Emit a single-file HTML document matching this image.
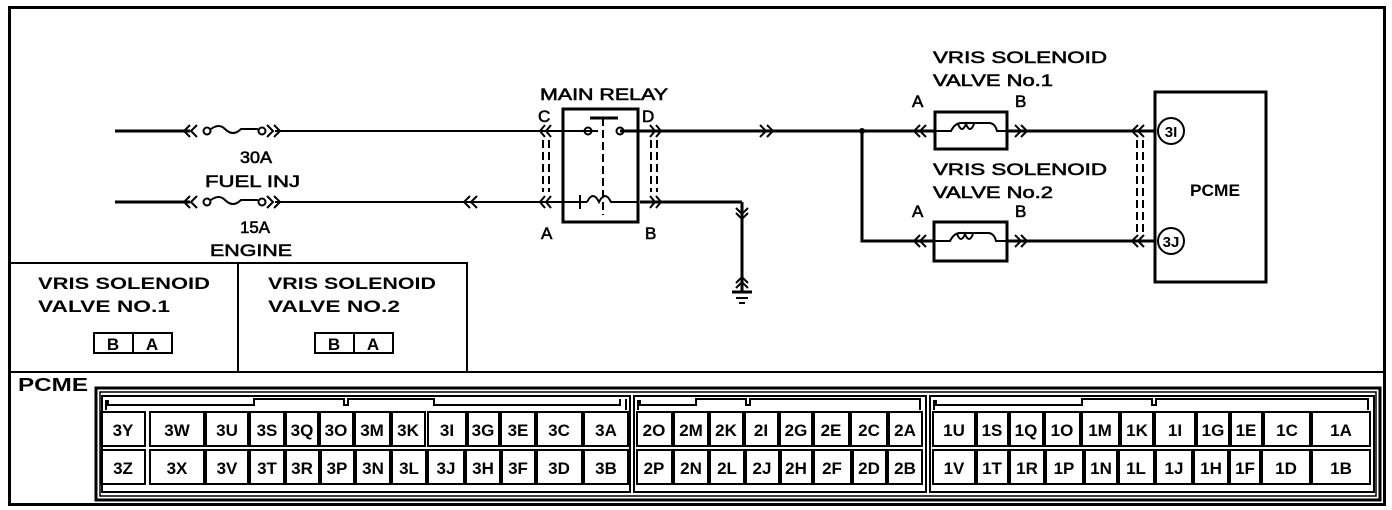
<!DOCTYPE html>
<html><head><meta charset="utf-8"><style>
html,body{margin:0;padding:0;background:#fff;}
svg{display:block;}
text{font-family:"Liberation Sans",sans-serif;font-weight:bold;fill:#000;}
.t{font-size:17px;font-weight:normal;stroke:#000;stroke-width:0.6;}
.c{font-size:17px;text-anchor:middle;}
</style></head><body>
<svg width="1392" height="510" viewBox="0 0 1392 510" xmlns="http://www.w3.org/2000/svg">
<g fill="none" stroke="#000">
<rect x="9.5" y="7.5" width="1375" height="497" stroke-width="3"/>
<line x1="9" y1="372" x2="1385" y2="372" stroke-width="2"/>
<polyline points="9,263 467,263 467,372" stroke-width="2"/>
<line x1="238" y1="263" x2="238" y2="372" stroke-width="2"/>
<line x1="115" y1="131" x2="190" y2="131" stroke-width="3"/>
<line x1="275" y1="131" x2="598" y2="131" stroke-width="2"/>
<line x1="620" y1="131" x2="1155" y2="131" stroke-width="3"/>
<line x1="115" y1="202" x2="190" y2="202" stroke-width="3"/>
<line x1="275" y1="202" x2="575" y2="202" stroke-width="2"/>
<line x1="640" y1="202" x2="742" y2="202" stroke-width="3"/>
<line x1="742" y1="202" x2="742" y2="292" stroke-width="3"/>
<line x1="732" y1="292" x2="752" y2="292" stroke-width="3"/>
<line x1="736" y1="298" x2="748" y2="298" stroke-width="2"/>
<line x1="739" y1="303" x2="745" y2="303" stroke-width="2"/>
<path d="M190,125 l-6,6 l6,6 M197,125 l-6,6 l6,6" stroke-width="2"/>
<circle cx="207" cy="131" r="3.5" stroke-width="2"/>
<path d="M211,129 q8,-6 14,0 q8,8 16,0 h17" stroke-width="2"/>
<circle cx="262" cy="131" r="3.5" stroke-width="2"/>
<path d="M267,125 l6,6 l-6,6 M274,125 l6,6 l-6,6" stroke-width="2"/>
<path d="M190,196 l-6,6 l6,6 M197,196 l-6,6 l6,6" stroke-width="2"/>
<circle cx="207" cy="202" r="3.5" stroke-width="2"/>
<path d="M211,200 q8,-6 14,0 q8,8 16,0 h17" stroke-width="2"/>
<circle cx="262" cy="202" r="3.5" stroke-width="2"/>
<path d="M267,196 l6,6 l-6,6 M274,196 l6,6 l-6,6" stroke-width="2"/>
<path d="M470,196 l-6,6 l6,6 M477,196 l-6,6 l6,6" stroke-width="2"/>
<path d="M760,125 l6,6 l-6,6 M767,125 l6,6 l-6,6" stroke-width="2"/>
<rect x="563" y="109" width="75" height="113" stroke-width="3"/>
<line x1="590" y1="118" x2="618" y2="118" stroke-width="3"/>
<circle cx="588" cy="131" r="3.5" stroke-width="2"/>
<circle cx="620" cy="131" r="3.5" stroke-width="2"/>
<line x1="603" y1="118" x2="603" y2="215" stroke-width="2" stroke-dasharray="8,4"/>
<path d="M563,202 h24 M580,195 v14 M587,202 q6,-12 12,0 q6,-12 12,0 h27" stroke-width="2"/>
<path d="M545,125 l-5,6 l5,6 M551,125 l-5,6 l5,6 M545,196 l-5,6 l5,6 M551,196 l-5,6 l5,6" stroke-width="2"/>
<path d="M543,140 v52 M549,140 v52" stroke-width="2" stroke-dasharray="8,4"/>
<path d="M650,125 l5,6 l-5,6 M656,125 l5,6 l-5,6 M650,196 l5,6 l-5,6 M656,196 l5,6 l-5,6" stroke-width="2"/>
<path d="M651,140 v52 M657,140 v52" stroke-width="2" stroke-dasharray="8,4"/>
<path d="M736,208 l6,6 l6,-6 M736,213 l6,6 l6,-6 M736,283 l6,-6 l6,6 M736,288 l6,-6 l6,6" stroke-width="2"/>
<polyline points="862,131 862,241 1155,241" stroke-width="3"/>
<circle cx="862" cy="131" r="2.5" fill="#000"/>
<rect x="935" y="112" width="72" height="37" fill="#fff" stroke-width="3"/>
<path d="M935,131 h16 q4,-8 10,-8 h28 q6,0 8,8 h10" stroke-width="2"/>
<path d="M958,124 q4,10 8,0 q4,10 8,0" stroke-width="2"/>
<rect x="934" y="222" width="73" height="39" fill="#fff" stroke-width="3"/>
<path d="M934,241 h16 q4,-8 10,-8 h28 q6,0 8,8 h10" stroke-width="2"/>
<path d="M957,234 q4,10 8,0 q4,10 8,0" stroke-width="2"/>
<path d="M920,125 l-6,6 l6,6 M926,125 l-6,6 l6,6 M1015,125 l6,6 l-6,6 M1021,125 l6,6 l-6,6" stroke-width="2"/>
<path d="M920,235 l-6,6 l6,6 M926,235 l-6,6 l6,6 M1015,235 l6,6 l-6,6 M1021,235 l6,6 l-6,6" stroke-width="2"/>
<path d="M1138,125 l-6,6 l6,6 M1144,125 l-6,6 l6,6 M1138,235 l-6,6 l6,6 M1144,235 l-6,6 l6,6" stroke-width="2"/>
<path d="M1137,140 v92 M1143,140 v92" stroke-width="2" stroke-dasharray="8,4"/>
<rect x="1155" y="92" width="111" height="190" stroke-width="3"/>
<circle cx="1171" cy="131" r="13" fill="#fff" stroke-width="2"/>
<circle cx="1171" cy="241" r="13" fill="#fff" stroke-width="2"/>
<rect x="94" y="333" width="78" height="20" stroke-width="2"/>
<line x1="133" y1="333" x2="133" y2="353" stroke-width="2"/>
<rect x="315" y="333" width="78" height="20" stroke-width="2"/>
<line x1="354" y1="333" x2="354" y2="353" stroke-width="2"/>
<rect x="96" y="388" width="1284" height="112" stroke-width="3"/>
<rect x="100" y="392" width="1276" height="104" stroke-width="1.5"/>
<rect x="102" y="396" width="528" height="96" stroke-width="2"/>
<rect x="634" y="396" width="292" height="96" stroke-width="2"/>
<rect x="930" y="396" width="444" height="96" stroke-width="2"/>
<path d="M106,410 v-9 h2 v4 h146 v-6 h90 v6 h4 v-6 h86 v6 h186 v-6 M626,399 v11" stroke-width="2"/>
<path d="M638,410 v-9 h2 v4 h56 v-6 h50 v6 h4 v-6 h170 v11" stroke-width="2"/>
<path d="M934,410 v-9 h2 v4 h146 v-6 h70 v6 h4 v-6 h212 v11" stroke-width="2"/>
<g stroke-width="2">
<rect x="101" y="412" width="44" height="34"/><rect x="150" y="412" width="54" height="34"/><rect x="206" y="412" width="42" height="34"/><rect x="250" y="412" width="34" height="34"/><rect x="286" y="412" width="32" height="34"/><rect x="320" y="412" width="33" height="34"/><rect x="355" y="412" width="35" height="34"/><rect x="392" y="412" width="33" height="34"/><rect x="428" y="412" width="38" height="34"/><rect x="468" y="412" width="31" height="34"/><rect x="501" y="412" width="34" height="34"/><rect x="537" y="412" width="45" height="34"/><rect x="584" y="412" width="44" height="34"/>
<rect x="101" y="450" width="44" height="34"/><rect x="150" y="450" width="54" height="34"/><rect x="206" y="450" width="42" height="34"/><rect x="250" y="450" width="34" height="34"/><rect x="286" y="450" width="33" height="34"/><rect x="321" y="450" width="33" height="34"/><rect x="356" y="450" width="34" height="34"/><rect x="392" y="450" width="34" height="34"/><rect x="428" y="450" width="36" height="34"/><rect x="466" y="450" width="34" height="34"/><rect x="502" y="450" width="33" height="34"/><rect x="537" y="450" width="45" height="34"/><rect x="584" y="450" width="44" height="34"/>
<rect x="637" y="412" width="35" height="34"/><rect x="674" y="412" width="34" height="34"/><rect x="710" y="412" width="33" height="34"/><rect x="745" y="412" width="33" height="34"/><rect x="780" y="412" width="32" height="34"/><rect x="814" y="412" width="35" height="34"/><rect x="851" y="412" width="36" height="34"/><rect x="889" y="412" width="33" height="34"/>
<rect x="637" y="450" width="35" height="34"/><rect x="674" y="450" width="34" height="34"/><rect x="710" y="450" width="34" height="34"/><rect x="746" y="450" width="33" height="34"/><rect x="781" y="450" width="31" height="34"/><rect x="814" y="450" width="37" height="34"/><rect x="853" y="450" width="33" height="34"/><rect x="888" y="450" width="34" height="34"/>
<rect x="933" y="412" width="42" height="34"/><rect x="977" y="412" width="31" height="34"/><rect x="1010" y="412" width="33" height="34"/><rect x="1045" y="412" width="35" height="34"/><rect x="1082" y="412" width="37" height="34"/><rect x="1121" y="412" width="32" height="34"/><rect x="1155" y="412" width="40" height="34"/><rect x="1197" y="412" width="32" height="34"/><rect x="1231" y="412" width="31" height="34"/><rect x="1264" y="412" width="46" height="34"/><rect x="1312" y="412" width="58" height="34"/>
<rect x="933" y="450" width="42" height="34"/><rect x="977" y="450" width="31" height="34"/><rect x="1010" y="450" width="34" height="34"/><rect x="1046" y="450" width="37" height="34"/><rect x="1085" y="450" width="32" height="34"/><rect x="1119" y="450" width="35" height="34"/><rect x="1156" y="450" width="36" height="34"/><rect x="1194" y="450" width="34" height="34"/><rect x="1230" y="450" width="30" height="34"/><rect x="1262" y="450" width="48" height="34"/><rect x="1312" y="450" width="58" height="34"/>
</g>
</g>
<text class="t" x="240" y="163" textLength="32" lengthAdjust="spacingAndGlyphs">30A</text>
<text class="t" x="205" y="187" textLength="95" lengthAdjust="spacingAndGlyphs">FUEL INJ</text>
<text class="t" x="240" y="233" textLength="30" lengthAdjust="spacingAndGlyphs">15A</text>
<text class="t" x="210" y="256" textLength="82" lengthAdjust="spacingAndGlyphs">ENGINE</text>
<text class="t" x="540" y="100" textLength="128" lengthAdjust="spacingAndGlyphs">MAIN RELAY</text>
<text class="t" x="538" y="122">C</text>
<text class="t" x="642" y="122">D</text>
<text class="t" x="541" y="239">A</text>
<text class="t" x="645" y="239">B</text>
<text class="t" x="933" y="63" textLength="174" lengthAdjust="spacingAndGlyphs">VRIS  SOLENOID</text>
<text class="t" x="933" y="86" textLength="120" lengthAdjust="spacingAndGlyphs">VALVE No.1</text>
<text class="t" x="912" y="107">A</text>
<text class="t" x="1015" y="107">B</text>
<text class="t" x="933" y="175" textLength="174" lengthAdjust="spacingAndGlyphs">VRIS  SOLENOID</text>
<text class="t" x="933" y="198" textLength="120" lengthAdjust="spacingAndGlyphs">VALVE No.2</text>
<text class="t" x="912" y="217">A</text>
<text class="t" x="1015" y="217">B</text>
<text x="1190" y="196" style="font-size:17px" textLength="50" lengthAdjust="spacingAndGlyphs">PCME</text>
<text x="1171" y="137" class="c" style="font-size:15px">3I</text>
<text x="1171" y="247" class="c" style="font-size:15px">3J</text>
<text x="38" y="289" style="font-size:17px" textLength="172" lengthAdjust="spacingAndGlyphs">VRIS SOLENOID</text>
<text x="38" y="312" style="font-size:17px" textLength="132" lengthAdjust="spacingAndGlyphs">VALVE NO.1</text>
<text x="268" y="289" style="font-size:17px" textLength="168" lengthAdjust="spacingAndGlyphs">VRIS SOLENOID</text>
<text x="268" y="312" style="font-size:17px" textLength="132" lengthAdjust="spacingAndGlyphs">VALVE NO.2</text>
<text x="113" y="350" class="c">B</text><text x="152" y="350" class="c">A</text>
<text x="334" y="350" class="c">B</text><text x="373" y="350" class="c">A</text>
<text x="18" y="391" style="font-size:18px" textLength="70" lengthAdjust="spacingAndGlyphs">PCME</text>
<g class="c">
<text x="123" y="436">3Y</text><text x="177" y="436">3W</text><text x="227" y="436">3U</text><text x="267" y="436">3S</text><text x="302" y="436">3Q</text><text x="336" y="436">3O</text><text x="372" y="436">3M</text><text x="408" y="436">3K</text><text x="447" y="436">3I</text><text x="483" y="436">3G</text><text x="518" y="436">3E</text><text x="559" y="436">3C</text><text x="606" y="436">3A</text>
<text x="123" y="474">3Z</text><text x="177" y="474">3X</text><text x="227" y="474">3V</text><text x="267" y="474">3T</text><text x="302" y="474">3R</text><text x="337" y="474">3P</text><text x="373" y="474">3N</text><text x="409" y="474">3L</text><text x="446" y="474">3J</text><text x="483" y="474">3H</text><text x="518" y="474">3F</text><text x="559" y="474">3D</text><text x="606" y="474">3B</text>
<text x="654" y="436">2O</text><text x="691" y="436">2M</text><text x="726" y="436">2K</text><text x="761" y="436">2I</text><text x="796" y="436">2G</text><text x="831" y="436">2E</text><text x="869" y="436">2C</text><text x="905" y="436">2A</text>
<text x="654" y="474">2P</text><text x="691" y="474">2N</text><text x="727" y="474">2L</text><text x="762" y="474">2J</text><text x="796" y="474">2H</text><text x="832" y="474">2F</text><text x="869" y="474">2D</text><text x="905" y="474">2B</text>
<text x="954" y="436">1U</text><text x="992" y="436">1S</text><text x="1026" y="436">1Q</text><text x="1062" y="436">1O</text><text x="1100" y="436">1M</text><text x="1137" y="436">1K</text><text x="1175" y="436">1I</text><text x="1213" y="436">1G</text><text x="1246" y="436">1E</text><text x="1287" y="436">1C</text><text x="1341" y="436">1A</text>
<text x="954" y="474">1V</text><text x="992" y="474">1T</text><text x="1027" y="474">1R</text><text x="1064" y="474">1P</text><text x="1101" y="474">1N</text><text x="1136" y="474">1L</text><text x="1174" y="474">1J</text><text x="1211" y="474">1H</text><text x="1245" y="474">1F</text><text x="1286" y="474">1D</text><text x="1341" y="474">1B</text>
</g>
</svg>
</body></html>
